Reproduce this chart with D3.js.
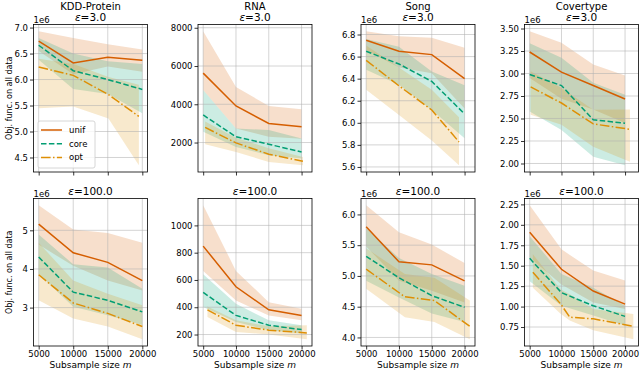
<!DOCTYPE html>
<html>
<head>
<meta charset="utf-8">
<script src="https://cdnjs.cloudflare.com/ajax/libs/d3/7.8.5/d3.min.js"></script>
<style>
body { margin: 0; background: #fff; }
svg { font-family: "DejaVu Sans", sans-serif; }
</style>
</head>
<body>
<div id="chart-area"></div>
<script>
/*
*    grid of subsample-size plots, 2 eps values x 4 datasets
*/

// shared x values and labels
var sizes = [5000, 10000, 15000, 20000];
var xTicks = [5000, 10000, 15000, 20000];
var methods = ["unif", "core", "opt"];
var datasets = ["KDD-Protein", "RNA", "Song", "Covertype"];
var epsilons = ["3.0", "100.0"];

// KDD-Protein, eps=3.0 (x1e6)
var kdd3Unif = [6.74, 6.32, 6.43, 6.37];
var kdd3UnifLo = [6.55, 6.10, 6.25, 6.15];
var kdd3UnifHi = [6.93, 6.80, 6.68, 6.58];
var kdd3Core = [6.66, 6.17, 6.00, 5.81];
var kdd3CoreLo = [6.38, 5.82, 5.72, 5.35];
var kdd3CoreHi = [6.80, 6.50, 6.35, 6.30];
var kdd3OptX = [5000, 10000, 15100, 19500];
var kdd3Opt = [6.24, 6.08, 5.71, 5.29];
var kdd3OptLo = [5.45, 5.48, 5.25, 4.35];
var kdd3OptHi = [6.40, 6.30, 6.05, 5.90];
var kdd3Ticks = [4.5, 5.0, 5.5, 6.0, 6.5, 7.0];

// RNA, eps=3.0
var rna3Unif = [5630, 3910, 3000, 2820];
var rna3UnifLo = [4750, 2740, 2300, 2200];
var rna3UnifHi = [7820, 4900, 3910, 3740];
var rna3Core = [3440, 2300, 1910, 1510];
var rna3CoreLo = [2560, 1770, 1330, 1160];
var rna3CoreHi = [4750, 2740, 2650, 2210];
var rna3OptX = [5300, 10000, 15000, 20200];
var rna3Opt = [2790, 1980, 1390, 1020];
var rna3OptLo = [1910, 1510, 980, 810];
var rna3OptHi = [3100, 2250, 1700, 1250];
var rna3Ticks = [2000, 4000, 6000, 8000];

// Song, eps=3.0 (x1e6)
var song3Unif = [6.748, 6.648, 6.618, 6.40];
var song3UnifLo = [6.66, 6.50, 6.45, 6.13];
var song3UnifHi = [6.83, 6.785, 6.77, 6.68];
var song3Core = [6.648, 6.533, 6.375, 6.08];
var song3CoreLo = [6.48, 6.344, 6.116, 5.86];
var song3CoreHi = [6.76, 6.69, 6.465, 6.34];
var song3OptX = [5000, 10000, 15000, 19150];
var song3Opt = [6.566, 6.335, 6.116, 5.827];
var song3OptLo = [6.30, 6.07, 5.84, 5.615];
var song3OptHi = [6.70, 6.50, 6.30, 6.05];
var song3Ticks = [5.6, 5.8, 6.0, 6.2, 6.4, 6.6, 6.8];

// Covertype, eps=3.0 (x1e6)
var cov3Unif = [3.239, 3.015, 2.866, 2.716];
var cov3UnifLo = [2.95, 2.72, 2.60, 2.45];
var cov3UnifHi = [3.47, 3.343, 3.10, 2.978];
var cov3Core = [2.989, 2.866, 2.485, 2.448];
var cov3CoreLo = [2.578, 2.373, 2.075, 1.98];
var cov3CoreHi = [3.336, 3.175, 2.896, 2.765];
var cov3OptX = [5150, 10000, 15000, 20770];
var cov3Opt = [2.851, 2.672, 2.44, 2.38];
var cov3OptLo = [2.541, 2.43, 2.187, 2.02];
var cov3OptHi = [3.026, 2.84, 2.597, 2.60];
var cov3Ticks = [2.00, 2.25, 2.50, 2.75, 3.00, 3.25, 3.50];

// KDD-Protein, eps=100.0 (x1e6)
var kdd100Unif = [5.16, 4.42, 4.17, 3.70];
var kdd100UnifLo = [4.63, 4.08, 3.70, 3.44];
var kdd100UnifHi = [5.65, 5.02, 4.93, 4.68];
var kdd100Core = [4.31, 3.40, 3.19, 2.89];
var kdd100CoreLo = [3.87, 3.02, 2.80, 2.55];
var kdd100CoreHi = [4.89, 4.12, 4.04, 3.49];
var kdd100OptX = [5000, 10000, 15000, 20000];
var kdd100Opt = [3.85, 3.12, 2.85, 2.51];
var kdd100OptLo = [3.19, 2.72, 2.51, 2.18];
var kdd100OptHi = [4.68, 3.70, 3.36, 3.06];
var kdd100Ticks = [3, 4, 5];

// RNA, eps=100.0
var rna100Unif = [848, 550, 381, 340];
var rna100UnifLo = [666, 449, 340, 304];
var rna100UnifHi = [1148, 666, 437, 389];
var rna100Core = [509, 340, 268, 236];
var rna100CoreLo = [401, 292, 232, 207];
var rna100CoreHi = [642, 425, 304, 268];
var rna100OptX = [5650, 10000, 15000, 20800];
var rna100Opt = [381, 268, 232, 212];
var rna100OptLo = [328, 219, 200, 165];
var rna100OptHi = [405, 304, 260, 268];
var rna100Ticks = [200, 400, 600, 800, 1000];

// Song, eps=100.0 (x1e6)
var song100Unif = [5.80, 5.23, 5.18, 4.92];
var song100UnifLo = [5.48, 4.92, 4.76, 4.57];
var song100UnifHi = [6.15, 5.71, 5.51, 5.21];
var song100Core = [5.32, 4.97, 4.68, 4.49];
var song100CoreLo = [4.92, 4.65, 4.39, 4.25];
var song100CoreHi = [5.78, 5.29, 5.03, 4.84];
var song100OptX = [5000, 10900, 15400, 20800];
var song100Opt = [5.11, 4.66, 4.60, 4.18];
var song100OptLo = [4.79, 4.33, 4.25, 3.97];
var song100OptHi = [5.45, 5.03, 4.97, 4.60];
var song100Ticks = [4.0, 4.5, 5.0, 5.5, 6.0];

// Covertype, eps=100.0 (x1e6)
var cov100Unif = [1.91, 1.456, 1.19, 1.03];
var cov100UnifLo = [1.60, 1.27, 1.05, 0.97];
var cov100UnifHi = [2.24, 1.70, 1.44, 1.32];
var cov100Core = [1.59, 1.17, 1.01, 0.88];
var cov100CoreLo = [1.31, 1.01, 0.89, 0.77];
var cov100CoreHi = [1.86, 1.40, 1.23, 1.01];
var cov100OptX = [5500, 9900, 11300, 15000, 21300];
var cov100Opt = [1.42, 1.03, 0.87, 0.85, 0.76];
var cov100OptLo = [1.23, 0.91, 0.83, 0.71, 0.60];
var cov100OptHi = [1.64, 1.21, 1.15, 0.97, 0.91];
var cov100Ticks = [0.75, 1.00, 1.25, 1.50, 1.75, 2.00, 2.25];

//colors and dash styles per method
var colors = {unif: "#d55e00", core: "#029e73", opt: "#de8f05"};
var dashes = {unif: null, core: "5.5,2.4", opt: "9.6,2.4,1.5,2.4"};

function series(name, x, y, lo, hi){
	return x.map(function(v, i){
		return {name: name, x: v, y: y[i], lo: lo[i], hi: hi[i]};
	});
}

var panels = [
	{row:0, col:0, offset:true, fmt:".1f", ticks:kdd3Ticks, lines:[
		series("unif", sizes, kdd3Unif, kdd3UnifLo, kdd3UnifHi),
		series("core", sizes, kdd3Core, kdd3CoreLo, kdd3CoreHi),
		series("opt", kdd3OptX, kdd3Opt, kdd3OptLo, kdd3OptHi)]},
	{row:0, col:1, offset:false, fmt:"d", ticks:rna3Ticks, lines:[
		series("unif", sizes, rna3Unif, rna3UnifLo, rna3UnifHi),
		series("core", sizes, rna3Core, rna3CoreLo, rna3CoreHi),
		series("opt", rna3OptX, rna3Opt, rna3OptLo, rna3OptHi)]},
	{row:0, col:2, offset:true, fmt:".1f", ticks:song3Ticks, lines:[
		series("unif", sizes, song3Unif, song3UnifLo, song3UnifHi),
		series("core", sizes, song3Core, song3CoreLo, song3CoreHi),
		series("opt", song3OptX, song3Opt, song3OptLo, song3OptHi)]},
	{row:0, col:3, offset:true, fmt:".2f", ticks:cov3Ticks, lines:[
		series("unif", sizes, cov3Unif, cov3UnifLo, cov3UnifHi),
		series("core", sizes, cov3Core, cov3CoreLo, cov3CoreHi),
		series("opt", cov3OptX, cov3Opt, cov3OptLo, cov3OptHi)]},
	{row:1, col:0, offset:true, fmt:"d", ticks:kdd100Ticks, lines:[
		series("unif", sizes, kdd100Unif, kdd100UnifLo, kdd100UnifHi),
		series("core", sizes, kdd100Core, kdd100CoreLo, kdd100CoreHi),
		series("opt", kdd100OptX, kdd100Opt, kdd100OptLo, kdd100OptHi)]},
	{row:1, col:1, offset:false, fmt:"d", ticks:rna100Ticks, lines:[
		series("unif", sizes, rna100Unif, rna100UnifLo, rna100UnifHi),
		series("core", sizes, rna100Core, rna100CoreLo, rna100CoreHi),
		series("opt", rna100OptX, rna100Opt, rna100OptLo, rna100OptHi)]},
	{row:1, col:2, offset:true, fmt:".1f", ticks:song100Ticks, lines:[
		series("unif", sizes, song100Unif, song100UnifLo, song100UnifHi),
		series("core", sizes, song100Core, song100CoreLo, song100CoreHi),
		series("opt", song100OptX, song100Opt, song100OptLo, song100OptHi)]},
	{row:1, col:3, offset:true, fmt:".2f", ticks:cov100Ticks, lines:[
		series("unif", sizes, cov100Unif, cov100UnifLo, cov100UnifHi),
		series("core", sizes, cov100Core, cov100CoreLo, cov100CoreHi),
		series("opt", cov100OptX, cov100Opt, cov100OptLo, cov100OptHi)]}
];

//layout
var colLeft = [33.5, 198, 361, 524.5];
var rowTop = [24.5, 198.5];
var width = 114, height = 147.5;

var svg = d3.select("#chart-area")
	.append("svg")
		.attr("width", 640)
		.attr("height", 370);

//x domain shared by column, 5% padding like matplotlib
function padded(ext){
	var m = (ext[1] - ext[0]) * 0.05;
	return [ext[0] - m, ext[1] + m];
}

var xScales = datasets.map(function(d, c){
	var xs = [];
	panels.filter(function(p){ return p.col == c; }).forEach(function(p){
		p.lines.forEach(function(s){ s.forEach(function(pt){ xs.push(pt.x); }); });
	});
	return d3.scaleLinear().domain(padded(d3.extent(xs))).range([0, width]);
});

panels.forEach(function(p){
	var x = xScales[p.col];
	var vals = [];
	p.lines.forEach(function(s){
		s.forEach(function(pt){ vals.push(pt.lo, pt.hi, pt.y); });
	});
	var y = d3.scaleLinear().domain(padded(d3.extent(vals))).range([height, 0]);

	var g = svg.append("g")
		.attr("transform", "translate(" + colLeft[p.col] + "," + rowTop[p.row] + ")");

	//bands
	var area = d3.area()
		.x(function(d){ return x(d.x); })
		.y0(function(d){ return y(d.lo); })
		.y1(function(d){ return y(d.hi); });
	g.selectAll("path.band")
		.data(p.lines)
		.enter().append("path")
			.attr("class", "band")
			.attr("d", area)
			.attr("fill", function(s){ return colors[s[0].name]; })
			.attr("fill-opacity", 0.2);

	//grid (over the bands, under the lines)
	g.selectAll("line.gx")
		.data(xTicks)
		.enter().append("line")
			.attr("x1", function(d){ return x(d); })
			.attr("x2", function(d){ return x(d); })
			.attr("y1", 0).attr("y2", height)
			.attr("stroke", "#b0b0b0").attr("stroke-opacity", 0.55)
			.attr("stroke-width", 1);
	g.selectAll("line.gy")
		.data(p.ticks)
		.enter().append("line")
			.attr("y1", function(d){ return y(d); })
			.attr("y2", function(d){ return y(d); })
			.attr("x1", 0).attr("x2", width)
			.attr("stroke", "#b0b0b0").attr("stroke-opacity", 0.55)
			.attr("stroke-width", 1);

	//mean lines
	var line = d3.line()
		.x(function(d){ return x(d.x); })
		.y(function(d){ return y(d.y); });
	g.selectAll("path.mean")
		.data(p.lines)
		.enter().append("path")
			.attr("class", "mean")
			.attr("d", line)
			.attr("fill", "none")
			.attr("stroke", function(s){ return colors[s[0].name]; })
			.attr("stroke-width", 1.5)
			.attr("stroke-dasharray", function(s){ return dashes[s[0].name]; });

	//axes
	var yAxisCall = d3.axisLeft(y)
		.tickValues(p.ticks)
		.tickSize(3.5)
		.tickPadding(2)
		.tickFormat(d3.format(p.fmt));
	var ya = g.append("g").call(yAxisCall);

	var xAxisCall = d3.axisBottom(x)
		.tickValues(xTicks)
		.tickSize(3.5)
		.tickPadding(1.5)
		.tickFormat(p.row == 1 ? d3.format("d") : "");
	var xa = g.append("g")
		.attr("transform", "translate(0," + height + ")")
		.call(xAxisCall);

	[ya, xa].forEach(function(a){
		a.select(".domain").remove();
		a.selectAll("line").attr("stroke", "#000").attr("stroke-width", 0.8);
		a.selectAll("text")
			.attr("font-family", "DejaVu Sans")
			.attr("font-size", "8.5px")
			.attr("fill", "#000");
	});

	//spines
	g.append("rect")
		.attr("width", width)
		.attr("height", height)
		.attr("fill", "none")
		.attr("stroke", "#000")
		.attr("stroke-width", 0.8);

	//offset text
	if (p.offset){
		g.append("text")
			.attr("x", 0)
			.attr("y", -2)
			.attr("font-size", "8.5px")
			.text("1e6");
	}

	//titles
	if (p.row == 0){
		g.append("text")
			.attr("x", width / 2)
			.attr("y", -14.5)
			.attr("text-anchor", "middle")
			.attr("font-size", "10px")
			.text(datasets[p.col]);
	}
	var t = g.append("text")
		.attr("x", width / 2)
		.attr("y", -4)
		.attr("text-anchor", "middle")
		.attr("font-size", "10.5px");
	t.append("tspan").attr("font-style", "italic").text("\u03b5");
	t.append("tspan").text("=" + epsilons[p.row]);

	//axis labels
	if (p.col == 0){
		g.append("text")
			.attr("transform", "rotate(-90)")
			.attr("x", -height / 2)
			.attr("y", 12 - colLeft[0])
			.attr("text-anchor", "middle")
			.attr("font-size", "8px")
			.text("Obj. func. on all data");
	}
	if (p.row == 1){
		var xl = g.append("text")
			.attr("x", width / 2)
			.attr("y", height + 22)
			.attr("text-anchor", "middle")
			.attr("font-size", "9px");
		xl.append("tspan").text("Subsample size ");
		xl.append("tspan").attr("font-style", "italic").text("m");
	}

	//legend, first panel only
	if (p.row == 0 && p.col == 0){
		var legend = g.append("g")
			.attr("transform", "translate(4.5," + (height - 51) + ")");
		legend.append("rect")
			.attr("width", 57)
			.attr("height", 47)
			.attr("rx", 2)
			.attr("fill", "#fff")
			.attr("fill-opacity", 0.8)
			.attr("stroke", "#cccccc")
			.attr("stroke-width", 0.8);
		methods.forEach(function(m, i){
			var row = legend.append("g")
				.attr("transform", "translate(0," + (9 + i * 13.7) + ")");
			row.append("line")
				.attr("x1", 3).attr("x2", 24)
				.attr("stroke", colors[m])
				.attr("stroke-width", 1.5)
				.attr("stroke-dasharray", dashes[m]);
			row.append("text")
				.attr("x", 31)
				.attr("y", 3)
				.attr("font-size", "8.5px")
				.text(m);
		});
	}
});
</script>
</body>
</html>
